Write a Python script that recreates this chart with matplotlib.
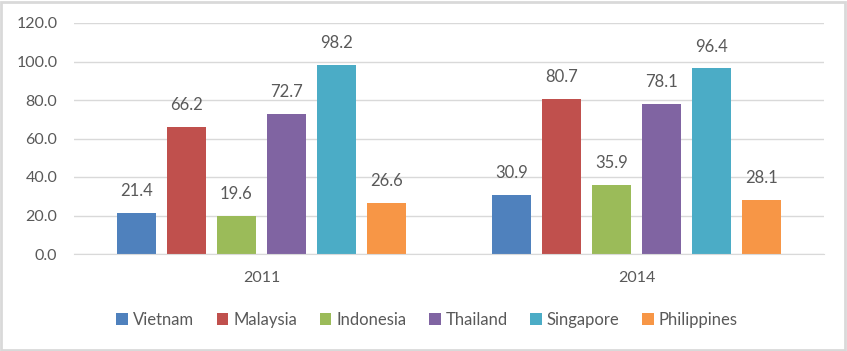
import matplotlib
matplotlib.use("Agg")
import matplotlib.pyplot as plt
import numpy as np
from matplotlib.patches import Rectangle

years = ["2011", "2014"]
countries = ["Vietnam", "Malaysia", "Indonesia", "Thailand", "Singapore", "Philippines"]
values = {
    "Vietnam": [21.4, 30.9],
    "Malaysia": [66.2, 80.7],
    "Indonesia": [19.6, 35.9],
    "Thailand": [72.7, 78.1],
    "Singapore": [98.2, 96.4],
    "Philippines": [26.6, 28.1],
}
colors = ["#4F81BD", "#C0504D", "#9BBB59", "#8064A2", "#4BACC6", "#F79646"]
yticks = [0, 20, 40, 60, 80, 100, 120]

plt.rcParams['font.family'] = ['Lato', 'DejaVu Sans']
txt = "#595959"

W, H = 847, 351
fig = plt.figure(figsize=(W / 100, H / 100), dpi=100)
ax = fig.add_axes([74 / W, 1 - 254 / H, (824 - 74) / W, (254 - 23) / H])

x = np.arange(len(years))
step = 50 / 374
width = 39 / 374
handles = []
for i, (c, col) in enumerate(zip(countries, colors)):
    pos = x + (i - 2.5) * step
    bars = ax.bar(pos, values[c], width=width, color=col, label=c, zorder=3)
    handles.append(bars)
    for p, v in zip(pos, values[c]):
        ax.annotate(f"{v:.1f}", (p, v), xytext=(0, 10), textcoords="offset points",
                    ha="center", va="bottom", fontsize=12, color=txt)

ax.set_xlim(-0.5, 1.5)
ax.set_ylim(0, 120)
ax.set_yticks(yticks)
ax.set_yticklabels([f"{t:.1f}" for t in yticks], fontsize=11.5, color=txt)
ax.set_xticks(x)
ax.set_xticklabels(years, fontsize=11.5, color=txt)
ax.tick_params(axis="both", length=0)
ax.tick_params(axis="y", pad=12)
ax.tick_params(axis="x", pad=12)
ax.grid(axis="y", color="#D9D9D9", linewidth=1, zorder=0)
for s in ["top", "right", "left"]:
    ax.spines[s].set_visible(False)
ax.spines["bottom"].set_color("#D9D9D9")
ax.spines["bottom"].set_zorder(4)

leg = fig.legend(handles=handles, labels=countries, loc="center", bbox_to_anchor=(427 / W, 1 - 320 / H),
                 ncol=6, frameon=False, fontsize=12, handlelength=0.7, handleheight=0.7,
                 handletextpad=0.3, columnspacing=1.35, labelcolor=txt)

fig.patches.append(Rectangle((1 / W, 1 / H), 1 - 3 / W, 1 - 3 / H, transform=fig.transFigure,
                             fill=False, edgecolor="#D9D9D9", linewidth=2))

fig.savefig("out.png", dpi=100, facecolor="white")
